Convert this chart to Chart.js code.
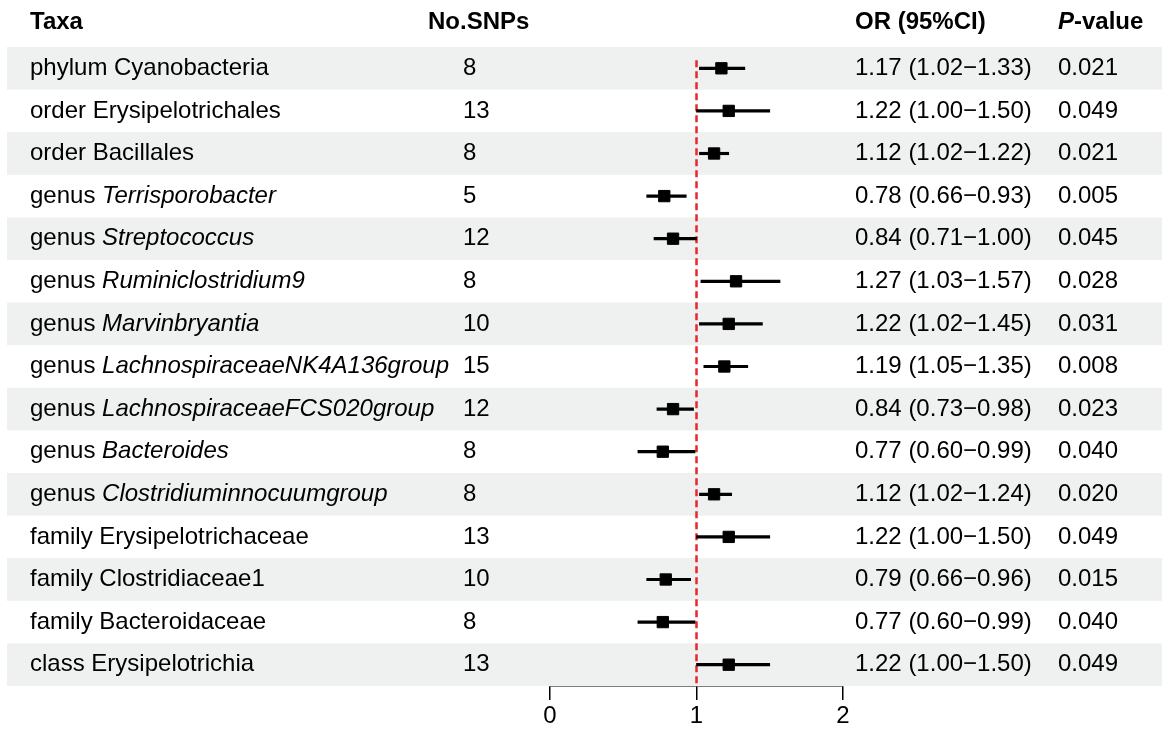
<!DOCTYPE html>
<html lang="en">
<head>
    <meta charset="UTF-8">
    <title>Forest plot - gut microbiota taxa</title>
    <script src="https://cdn.jsdelivr.net/npm/chart.js"></script>
    <style>
        html, body {
            margin: 0;
            padding: 0;
            background: #ffffff;
        }

        canvas {
            display: block;
        }
    </style>
</head>
<body>
    <canvas id="forestChart" width="1169" height="732"></canvas>

    <script>
        // Data
        const ranks = ['phylum', 'order', 'order', 'genus', 'genus', 'genus', 'genus', 'genus',
            'genus', 'genus', 'genus', 'family', 'family', 'family', 'class'];
        const names = ['Cyanobacteria', 'Erysipelotrichales', 'Bacillales', 'Terrisporobacter',
            'Streptococcus', 'Ruminiclostridium9', 'Marvinbryantia', 'LachnospiraceaeNK4A136group',
            'LachnospiraceaeFCS020group', 'Bacteroides', 'Clostridiuminnocuumgroup',
            'Erysipelotrichaceae', 'Clostridiaceae1', 'Bacteroidaceae', 'Erysipelotrichia'];
        const snps = [8, 13, 8, 5, 12, 8, 10, 15, 12, 8, 8, 13, 10, 8, 13];
        const oddsRatio = [1.17, 1.22, 1.12, 0.78, 0.84, 1.27, 1.22, 1.19, 0.84, 0.77, 1.12, 1.22, 0.79, 0.77, 1.22];
        const ciLow = [1.02, 1.00, 1.02, 0.66, 0.71, 1.03, 1.02, 1.05, 0.73, 0.60, 1.02, 1.00, 0.66, 0.60, 1.00];
        const ciHigh = [1.33, 1.50, 1.22, 0.93, 1.00, 1.57, 1.45, 1.35, 0.98, 0.99, 1.24, 1.50, 0.96, 0.99, 1.50];
        const pValues = ['0.021', '0.049', '0.021', '0.005', '0.045', '0.028', '0.031', '0.008',
            '0.023', '0.040', '0.020', '0.049', '0.015', '0.040', '0.049'];
        const xTicks = [0, 1, 2];

        const labels = names.map((n, i) => ranks[i] + ' ' + n);
        const FONT = '"Liberation Sans", Arial, sans-serif';

        // alternating row shading + red reference line at OR = 1
        const tablePlugin = {
            id: 'tablePlugin',
            beforeDatasetsDraw(chart) {
                const ctx = chart.ctx;
                const y = chart.scales.y;
                const x = chart.scales.x;
                const rowH = y.getPixelForValue(1) - y.getPixelForValue(0);

                ctx.save();
                ctx.fillStyle = '#eef1f0';
                labels.forEach((_, i) => {
                    if (i % 2 === 0) {
                        ctx.fillRect(7, y.getPixelForValue(i) - rowH / 2, 1155, rowH);
                    }
                });

                ctx.strokeStyle = '#e8262b';
                ctx.lineWidth = 2.5;
                ctx.setLineDash([7, 4]);
                const x1 = x.getPixelForValue(1);
                ctx.beginPath();
                ctx.moveTo(x1, y.getPixelForValue(0) - 8);
                ctx.lineTo(x1, chart.chartArea.bottom);
                ctx.stroke();
                ctx.restore();
            },
            afterDraw(chart) {
                const ctx = chart.ctx;
                const y = chart.scales.y;
                ctx.save();
                ctx.fillStyle = '#000';
                ctx.textBaseline = 'middle';
                ctx.textAlign = 'left';

                // header
                const hy = 22;
                ctx.font = 'bold 24px ' + FONT;
                ctx.fillText('Taxa', 30, hy);
                ctx.fillText('No.SNPs', 428, hy);
                ctx.fillText('OR (95%CI)', 855, hy);
                ctx.font = 'italic bold 24px ' + FONT;
                ctx.fillText('P', 1058, hy);
                const pw = ctx.measureText('P').width;
                ctx.font = 'bold 24px ' + FONT;
                ctx.fillText('-value', 1058 + pw, hy);

                // body rows
                labels.forEach((_, i) => {
                    const ry = y.getPixelForValue(i);
                    ctx.font = '24px ' + FONT;
                    const rankTxt = ranks[i] + ' ';
                    ctx.fillText(rankTxt, 30, ry);
                    const rw = ctx.measureText(rankTxt).width;
                    if (ranks[i] === 'genus') ctx.font = 'italic 24px ' + FONT;
                    ctx.fillText(names[i], 30 + rw, ry);

                    ctx.font = '24px ' + FONT;
                    ctx.fillText(String(snps[i]), 463, ry);
                    const orTxt = oddsRatio[i].toFixed(2) + ' (' + ciLow[i].toFixed(2) + '\u2212' + ciHigh[i].toFixed(2) + ')';
                    ctx.fillText(orTxt, 855, ry);
                    ctx.fillText(pValues[i], 1058, ry);
                });
                ctx.restore();
            }
        };

        const ctxForest = document.getElementById('forestChart').getContext('2d');
        new Chart(ctxForest, {
            type: 'bar',
            data: {
                labels: labels,
                datasets: [{
                    type: 'line',
                    label: 'OR',
                    data: oddsRatio,
                    showLine: false,
                    pointStyle: 'rect',
                    pointRadius: 8,
                    pointBorderWidth: 1,
                    pointBackgroundColor: '#000',
                    pointBorderColor: '#000',
                    order: 0
                }, {
                    type: 'bar',
                    label: '95% CI',
                    data: ciLow.map((lo, i) => [lo, ciHigh[i]]),
                    backgroundColor: '#000',
                    barThickness: 2.5,
                    order: 1
                }]
            },
            options: {
                responsive: false,
                animation: false,
                indexAxis: 'y',
                layout: {
                    padding: { left: 550, right: 326, top: 47, bottom: 0 }
                },
                scales: {
                    x: {
                        type: 'linear',
                        min: 0,
                        max: 2,
                        afterBuildTicks(scale) {
                            scale.ticks = xTicks.map(v => ({ value: v }));
                        },
                        afterFit(scale) {
                            scale.height = 46;
                        },
                        border: { color: '#000', width: 1.5 },
                        grid: {
                            drawOnChartArea: false,
                            drawTicks: true,
                            tickLength: 14,
                            color: '#000',
                            lineWidth: 1.5
                        },
                        ticks: {
                            color: '#000',
                            padding: 2,
                            font: { family: FONT, size: 24 }
                        }
                    },
                    y: {
                        display: false,
                        offset: true
                    }
                },
                plugins: {
                    legend: { display: false },
                    tooltip: { enabled: false }
                }
            },
            plugins: [tablePlugin]
        });
    </script>
</body>
</html>
